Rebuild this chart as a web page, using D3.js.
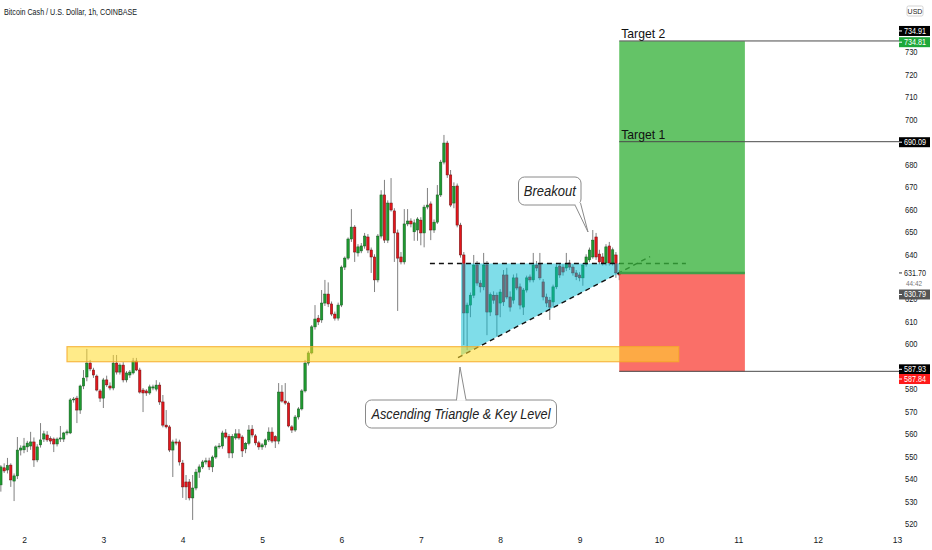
<!DOCTYPE html>
<html><head><meta charset="utf-8">
<script src="https://cdn.jsdelivr.net/npm/d3@7"></script>
<style>body{margin:0;background:#fff}svg{display:block}text{font-family:"Liberation Sans",Arial,sans-serif}</style>
</head><body><svg id="c" width="932" height="550"></svg>
<script>
// ---- data ----
const title = "Bitcoin Cash / U.S. Dollar, 1h, COINBASE";
const firstCandle = Date.UTC(2021, 8, 1, 17); // hourly candles
const opens = [
537.4,545.0,544.0,546.2,539.1,541.4,552.9,553.0,554.3,554.7,
556.5,548.5,555.2,557.8,559.6,558.0,557.8,555.6,557.8,557.8,
560.5,560.5,575.2,576.0,570.7,581.4,585.4,591.6,588.5,585.8,
579.2,576.0,584.1,581.4,580.5,591.6,587.6,590.7,584.1,586.3,
587.2,592.5,588.5,579.6,579.2,578.3,580.5,580.0,581.8,574.3,
564.0,563.2,552.9,556.5,556.5,547.1,538.7,538.7,531.6,536.0,
543.1,545.4,547.6,548.1,545.4,549.8,554.3,554.7,560.5,559.0,
551.6,558.3,560.1,558.7,553.4,555.9,562.2,559.2,556.1,554.3,
555.2,557.4,560.9,558.9,556.9,578.7,574.7,573.8,563.2,561.8,
567.6,571.2,579.2,591.6,596.1,607.7,611.6,610.8,618.3,622.3,
617.9,613.4,611.6,617.4,634.3,638.3,646.8,652.1,640.6,641.5,
643.7,647.7,641.9,638.8,628.6,648.1,666.4,646.3,662.8,659.3,
649.5,638.8,636.6,653.5,654.8,650.0,650.8,655.2,649.5,661.0,
662.4,650.8,654.3,666.4,681.0,689.5,675.3,662.8,670.4,653.0,
639.7,613.9,617.4,621.8,635.2,627.2,625.5,635.2,614.3,621.8,
621.8,618.3,630.8,630.8,621.0,619.6,629.5,625.5,616.5,624.1,
629.9,628.6,635.2,635.6,627.7,621.0,619.6,618.8,625.5,634.8,
634.3,633.9,636.1,634.3,631.7,630.8,629.5,635.6,637.5,638.8,
647.7,640.1,638.8,636.1,643.7,636.1,639.7,631.7];
const highs = [
546.2,547.0,549.4,547.0,542.5,558.7,555.0,558.3,557.0,561.0,
558.5,555.5,564.9,561.5,561.3,559.0,558.5,558.5,563.6,561.0,
562.0,576.0,576.5,577.0,582.0,588.5,597.9,593.0,589.5,586.5,
580.0,585.0,586.0,583.0,595.2,595.2,591.5,592.0,588.0,588.5,
593.9,593.9,589.5,580.5,580.0,582.0,582.0,584.0,583.0,577.4,
570.7,564.0,557.5,558.0,557.5,548.5,541.8,540.0,541.8,544.5,
546.5,548.5,549.5,549.5,550.5,555.0,556.0,561.5,562.2,560.0,
560.0,562.2,562.2,559.5,556.5,564.0,564.0,560.0,557.0,556.0,
558.0,563.0,563.0,559.5,582.7,581.8,582.7,574.5,564.0,568.5,
572.0,580.0,593.0,597.0,608.5,617.4,613.0,624.1,628.6,627.5,
619.0,614.5,618.5,635.0,639.0,647.5,660.1,653.0,644.5,645.0,
649.5,649.0,643.0,640.0,649.0,668.5,673.1,664.0,673.9,660.5,
651.0,641.0,660.1,660.1,656.0,655.5,656.5,656.5,662.0,669.5,
663.5,655.5,670.8,682.0,693.1,690.5,677.5,672.0,671.5,654.0,
641.0,618.5,623.0,639.7,637.0,628.5,640.6,637.0,623.0,623.5,
623.0,624.5,633.0,634.0,623.5,631.0,631.5,627.0,625.0,630.5,
631.0,640.6,637.0,640.6,629.0,622.5,621.0,626.5,635.5,636.0,
635.5,640.6,637.5,635.5,633.0,632.0,636.0,640.0,643.0,650.8,
649.5,642.0,640.5,644.5,645.5,643.0,641.0,633.0];
const lows = [
534.4,542.7,542.5,536.5,530.2,540.0,550.5,551.5,552.0,553.0,
545.4,547.5,554.0,556.5,556.5,555.5,552.0,554.5,556.5,556.5,
559.5,560.0,574.0,564.9,569.0,580.0,583.5,588.0,585.0,579.0,
574.3,571.6,581.0,579.5,579.5,586.5,586.5,583.0,583.0,585.0,
586.5,588.0,578.0,569.8,577.0,577.5,579.5,579.0,573.0,563.0,
562.5,552.0,540.9,555.0,546.0,531.6,530.7,530.5,521.8,535.0,
540.5,544.5,546.5,544.0,543.1,549.0,553.5,553.5,558.0,549.3,
549.3,557.5,557.5,549.8,551.5,555.0,558.5,555.0,553.0,553.0,
554.0,556.5,556.0,553.8,555.5,574.0,573.0,563.0,560.5,561.0,
566.5,570.5,578.5,590.5,595.5,606.5,608.5,609.5,617.0,616.5,
612.5,610.5,610.5,616.5,633.0,637.5,645.5,636.6,639.0,640.5,
642.5,640.5,631.7,623.2,627.5,647.0,645.0,645.0,659.0,636.6,
614.8,635.5,635.5,652.5,652.0,646.0,646.0,644.0,643.1,660.0,
646.3,649.5,653.5,665.5,680.0,674.0,661.0,660.5,652.0,638.5,
599.6,597.4,612.0,620.5,626.0,623.0,624.0,604.0,612.5,618.0,
603.5,612.0,617.0,620.0,614.5,618.0,624.0,615.5,613.0,623.0,
627.5,627.5,632.5,628.5,619.5,616.5,610.8,617.0,624.5,629.5,
630.5,632.5,633.0,630.5,628.5,628.0,626.0,634.5,636.5,638.0,
637.5,635.5,635.0,635.0,635.0,635.0,629.5,628.5];
const closes = [
545.4,543.6,546.0,539.6,541.4,552.9,553.8,554.7,556.0,556.5,
548.5,554.3,557.4,560.1,557.4,556.9,555.6,557.8,558.3,560.5,
561.0,575.2,575.6,570.7,581.4,584.9,591.6,589.0,586.3,579.6,
576.0,584.1,581.9,580.5,591.6,587.6,590.7,584.1,587.2,587.6,
592.5,588.5,578.7,578.3,578.3,581.0,581.0,581.8,574.3,564.0,
563.2,552.9,556.5,556.0,547.6,536.5,536.5,531.6,536.0,543.1,
545.4,547.6,548.1,545.4,549.8,554.3,554.7,560.5,558.7,551.6,
559.0,560.1,558.3,552.5,555.9,561.8,559.6,556.1,554.3,555.2,
557.4,560.9,556.9,556.9,578.7,574.7,573.8,563.6,561.8,567.6,
571.2,579.2,591.6,596.1,607.7,611.2,609.9,618.3,622.3,617.9,
613.4,611.6,617.4,634.3,638.3,646.8,652.1,641.0,643.3,643.7,
648.1,641.9,638.8,628.6,648.1,666.4,646.3,662.8,659.7,649.5,
638.3,636.6,653.5,654.8,653.5,654.0,655.7,649.5,661.0,661.9,
650.8,654.3,666.4,681.0,689.5,675.3,661.9,670.2,653.0,639.7,
613.9,617.4,621.8,635.2,627.2,625.5,635.2,614.3,622.0,619.6,
613.0,623.2,618.8,621.0,616.5,629.5,625.0,617.4,624.1,629.5,
628.6,635.2,633.9,629.5,621.0,618.3,616.5,625.5,634.3,630.8,
632.1,635.6,634.3,631.7,630.0,629.5,635.2,638.8,641.9,646.3,
638.8,636.6,636.1,643.3,636.1,642.0,631.7,630.79];

const dayTicks = [2,3,4,5,6,7,8,9,10,11,12,13];
// tick labels visible on the price scale (590, 630, 690 are covered by price tags)
const priceTicks = [520,530,540,550,560,570,580,600,610,620,640,650,660,670,680,700,710,720,730];

// key level zone
const zoneTimes = ["2021-09-02T13:00Z","2021-09-10T06:00Z"];
const zonePrices = [592.2, 598.9];
// ascending triangle
const triTimes = ["2021-09-07T12:10Z","2021-09-09T12:00Z","2021-09-09T12:00Z","2021-09-07T12:10Z"];
const triPrices = [635.9, 635.9, 631.7, 595.0];
const resTimes = ["2021-09-07T02:45Z","2021-09-10T08:10Z"];
const resPrices = [635.9, 635.9];
const supTimes = ["2021-09-07T11:15Z","2021-09-09T21:20Z"];
const supPrices = [594.0, 639.0];
// long position
const posTimes = ["2021-09-09T12:00Z","2021-09-11T02:00Z"];
const entryPrice = 631.70, targetPrice = 734.81, stopPrice = 587.84;
// horizontal levels
const levelNames = ["Target 2","Target 1",""];
const levelPrices = [734.91, 690.09, 587.93];
const lastPrice = 630.79, countdown = "44:42";

// ---- scales ----
const svg = d3.select("#c");
const x = d3.scaleUtc().domain([new Date(Date.UTC(2021,8,2)), new Date(Date.UTC(2021,8,13))]).range([24,897]);
const y = d3.scaleLinear().domain([520,730]).range([524,52]);
const T = s => new Date(s);
const narrow = "'Liberation Sans Narrow','Liberation Sans',Arial,sans-serif";

const candles = opens.map((o,i)=>({t:new Date(firstCandle+i*3600e3),o,h:highs[i],l:lows[i],c:closes[i]}));

// candles
const cg = svg.append("g");
cg.selectAll("line").data(candles).join("line")
  .attr("x1",d=>x(d.t)).attr("x2",d=>x(d.t))
  .attr("y1",d=>y(d.h)).attr("y2",d=>y(d.l))
  .attr("stroke","#808080").attr("stroke-width",1);
const bw = 2.4;
cg.selectAll("rect").data(candles).join("rect")
  .attr("x",d=>x(d.t)-bw/2).attr("width",bw)
  .attr("y",d=>y(Math.max(d.o,d.c)))
  .attr("height",d=>Math.max(0.8,Math.abs(y(d.o)-y(d.c))))
  .attr("fill",d=>d.c>=d.o?"#1e9a30":"#e3161c")
  .attr("stroke",d=>d.c>=d.o?"#145a1e":"#6a1010").attr("stroke-width",0.5);

// triangle
const tri = triTimes.map((t,i)=>[x(T(t)),y(triPrices[i])]);
svg.append("path").attr("d","M"+tri.join("L")+"Z").attr("fill","#00bcd4").attr("fill-opacity",0.5);

// dashed lines
svg.append("line").attr("x1",x(T(resTimes[0]))).attr("x2",x(T(resTimes[1])))
  .attr("y1",y(resPrices[0])).attr("y2",y(resPrices[1]))
  .attr("stroke","#111").attr("stroke-width",1.4).attr("stroke-dasharray","5,4");
svg.append("line").attr("x1",x(T(supTimes[0]))).attr("x2",x(T(supTimes[1])))
  .attr("y1",y(supPrices[0])).attr("y2",y(supPrices[1]))
  .attr("stroke","#111").attr("stroke-width",1.4).attr("stroke-dasharray","5,4");

// position boxes
const px0 = x(T(posTimes[0])), px1 = x(T(posTimes[1]));
svg.append("rect").attr("x",px0).attr("width",px1-px0)
  .attr("y",y(targetPrice)).attr("height",y(entryPrice)-y(targetPrice))
  .attr("fill","rgb(56,178,60)").attr("fill-opacity",0.78);
svg.append("rect").attr("x",px0).attr("width",px1-px0)
  .attr("y",y(entryPrice)).attr("height",y(stopPrice)-y(entryPrice))
  .attr("fill","rgb(249,70,62)").attr("fill-opacity",0.78);
svg.append("line").attr("x1",px0).attr("x2",px1).attr("y1",y(entryPrice)).attr("y2",y(entryPrice))
  .attr("stroke","#3f9e48").attr("stroke-width",2.5);

// key zone
const zx0 = x(T(zoneTimes[0])), zx1 = x(T(zoneTimes[1]));
svg.append("rect").attr("x",zx0).attr("width",zx1-zx0)
  .attr("y",y(zonePrices[1])).attr("height",y(zonePrices[0])-y(zonePrices[1]))
  .attr("fill","rgb(255,218,40)").attr("fill-opacity",0.55)
  .attr("stroke","rgb(245,170,40)").attr("stroke-opacity",0.8).attr("stroke-width",1.2);

// horizontal levels
levelPrices.forEach((p,i)=>{
  svg.append("line").attr("x1",px0).attr("x2",899).attr("y1",y(p)).attr("y2",y(p))
    .attr("stroke","#4a4a4a").attr("stroke-width",1);
  if(levelNames[i]) svg.append("text").attr("x",px0+2).attr("y",y(p)-3)
    .attr("font-size",13).attr("fill","#111").attr("textLength",44).attr("lengthAdjust","spacingAndGlyphs")
    .text(levelNames[i]);
});

// callouts
function callout(bx,by,bw2,bh,tail,label,tl){
  const g = svg.append("g");
  g.append("rect").attr("x",bx).attr("y",by).attr("width",bw2).attr("height",bh).attr("rx",6)
    .attr("fill","#fff").attr("stroke","#8a8a8a").attr("stroke-width",1);
  g.append("path").attr("d",`M${tail[0][0]},${tail[0][1]}L${tail[1][0]},${tail[1][1]}L${tail[2][0]},${tail[2][1]}`)
    .attr("fill","#fff").attr("stroke","#8a8a8a").attr("stroke-width",1);
  g.append("line").attr("x1",tail[0][0]+0.6).attr("x2",tail[2][0]-0.6).attr("y1",tail[0][1]).attr("y2",tail[2][1])
    .attr("stroke","#fff").attr("stroke-width",1.6);
  g.append("text").attr("x",bx+bw2/2).attr("y",by+bh/2+5).attr("text-anchor","middle")
    .attr("font-size",14).attr("font-style","italic").attr("fill","#222")
    .attr("textLength",tl).attr("lengthAdjust","spacingAndGlyphs").text(label);
}
callout(518.5,177,62.5,28,[[575,205],[588,232],[580.5,203]],"Breakout",52);
callout(365.5,400,191,28,[[456.5,400],[460,367],[466,400]],"Ascending Triangle & Key Level",179);

// title
svg.append("text").attr("x",4).attr("y",14.5).attr("font-size",9.5).attr("fill","#131722")
  .attr("textLength",133).attr("lengthAdjust","spacingAndGlyphs").text(title);

// axes
const xa = svg.append("g").attr("transform","translate(0,534)")
  .call(d3.axisBottom(x).tickValues(dayTicks.map(d=>new Date(Date.UTC(2021,8,d)))).tickFormat(d3.utcFormat("%-d")).tickSize(0).tickPadding(3));
xa.select(".domain").remove();
xa.selectAll("text").attr("font-size",8.5).attr("fill","#131722").attr("font-family",narrow);
const ya = svg.append("g").attr("transform","translate(905,0)")
  .call(d3.axisRight(y).tickValues(priceTicks).tickFormat(d3.format("d")).tickSize(0).tickPadding(0));
ya.select(".domain").remove();
ya.selectAll("text").attr("font-size",8.5).attr("fill","#131722").attr("font-family",narrow)
  .attr("textLength",12.5).attr("lengthAdjust","spacingAndGlyphs");

// price labels
function priceBox(val,cy,fill,tc){
  svg.append("rect").attr("x",899).attr("y",cy-5).attr("width",31).attr("height",10).attr("fill",fill);
  svg.append("line").attr("x1",899).attr("x2",902).attr("y1",cy).attr("y2",cy).attr("stroke",tc).attr("stroke-width",1);
  svg.append("text").attr("x",904).attr("y",cy+3).attr("font-size",8.5).attr("fill",tc)
    .attr("font-family",narrow).attr("textLength",22).attr("lengthAdjust","spacingAndGlyphs")
    .text(d3.format(".2f")(val));
}
priceBox(levelPrices[0], y(levelPrices[0])-10, "#000", "#fff");
priceBox(targetPrice, y(targetPrice)+1, "#1ea83a", "#fff");
priceBox(levelPrices[1], y(levelPrices[1])+0.5, "#000", "#fff");
priceBox(lastPrice, y(lastPrice)+19.5, "#555", "#fff");
priceBox(levelPrices[2], y(levelPrices[2])-2, "#000", "#fff");
priceBox(stopPrice, y(stopPrice)+7.5, "#ff1a1a", "#fff");
// current price & countdown
svg.append("line").attr("x1",899).attr("x2",902).attr("y1",y(entryPrice)).attr("y2",y(entryPrice)).attr("stroke","#333");
svg.append("text").attr("x",904).attr("y",y(entryPrice)+3).attr("font-size",8.5).attr("fill","#222")
  .attr("font-family",narrow).attr("textLength",22).attr("lengthAdjust","spacingAndGlyphs").text(d3.format(".2f")(entryPrice));
svg.append("text").attr("x",906).attr("y",y(entryPrice)+13).attr("font-size",8).attr("fill","#777")
  .attr("font-family",narrow).attr("textLength",16).attr("lengthAdjust","spacingAndGlyphs").text(countdown);
// USD
svg.append("rect").attr("x",907).attr("y",6).attr("width",16).attr("height",10).attr("rx",1.5)
  .attr("fill","#fff").attr("stroke","#c8c8c8").attr("stroke-width",0.8);
svg.append("text").attr("x",915).attr("y",13.5).attr("text-anchor","middle").attr("font-size",7).attr("fill","#222").text("USD");
</script></body></html>
